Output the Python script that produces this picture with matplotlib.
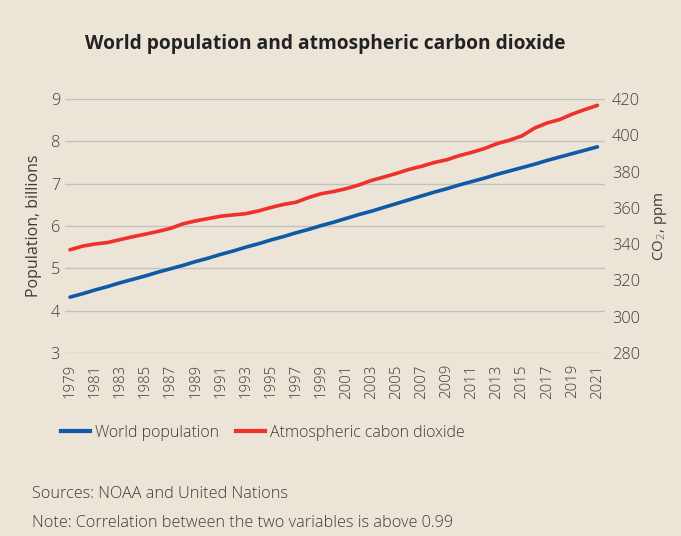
import matplotlib
matplotlib.use("Agg")
import matplotlib.pyplot as plt
from matplotlib.lines import Line2D

plt.rcParams['font.family'] = ['Open Sans', 'DejaVu Sans']
plt.rcParams['font.weight'] = 'light'

years = list(range(1979, 2022))

# world population, billions
population = [4.32, 4.40, 4.49, 4.57, 4.66, 4.74, 4.82, 4.91, 4.99, 5.07,
              5.16, 5.24, 5.33, 5.41, 5.50, 5.58, 5.67, 5.75, 5.84, 5.92,
              6.01, 6.09, 6.18, 6.27, 6.35, 6.44, 6.53, 6.62, 6.71, 6.80,
              6.88, 6.97, 7.05, 7.13, 7.22, 7.30, 7.38, 7.46, 7.55, 7.63,
              7.71, 7.79, 7.87]

# atmospheric CO2, ppm (annual mean)
co2 = [336.9, 338.9, 340.1, 340.9, 342.5, 344.1, 345.5, 347.0, 348.7, 351.2,
       352.8, 354.1, 355.4, 356.1, 356.8, 358.3, 360.2, 361.9, 363.1, 365.7,
       367.8, 369.0, 370.6, 372.6, 375.1, 377.0, 379.0, 381.2, 382.9, 385.0,
       386.5, 388.8, 390.6, 392.7, 395.4, 397.3, 399.7, 404.0, 406.8, 408.7,
       411.7, 414.2, 416.5]

pop_ticks = [3, 4, 5, 6, 7, 8, 9]
co2_ticks = [280, 300, 320, 340, 360, 380, 400, 420]
year_ticks = years[::2]

bg = "#ECE4D6"
blue = "#0E5AA7"
red = "#F0302A"
grid = "#C4C1BC"
txt = "#3E3B39"

fig = plt.figure(figsize=(6.81, 5.36), dpi=100, facecolor=bg)
ax = fig.add_axes([0.0954, 0.3414, 0.793, 0.4739])
ax.set_facecolor(bg)
ax2 = ax.twinx()

ax.plot(years, population, color=blue, lw=2.6, solid_capstyle="round", zorder=3)
ax2.plot(years, co2, color=red, lw=2.6, solid_capstyle="round", zorder=3)

ax.set_xlim(1978.6, 2021.6)
ax.set_ylim(3, 9)
ax2.set_ylim(280, 420)
ax.set_yticks(pop_ticks)
ax2.set_yticks(co2_ticks)
ax.set_xticks(year_ticks)
ax.set_xticklabels([str(y) for y in year_ticks], rotation=90)

ax.grid(axis="y", color=grid, lw=1.0)
ax.set_axisbelow(True)
for a in (ax, ax2):
    for s in a.spines.values():
        s.set_visible(False)
    a.tick_params(length=0, colors=txt)
ax.tick_params(axis="y", labelsize=11.8, pad=3.5)
ax2.tick_params(axis="y", labelsize=11.8, pad=5)
ax.tick_params(axis="x", labelsize=10.8, pad=8)

ax.set_ylabel("Population, billions", fontsize=11.5, color=txt, labelpad=6)
ax2.set_ylabel("CO$_2$, ppm", fontsize=10.8, color=txt, labelpad=8)

fig.text(0.478, 0.918, "World population and atmospheric carbon dioxide",
         ha="center", va="center", fontsize=13.8, fontweight="bold", color="#222222")

handles = [Line2D([], [], color=blue, lw=3), Line2D([], [], color=red, lw=3)]
fig.legend(handles, ["World population", "Atmospheric cabon dioxide"],
           loc="center left", bbox_to_anchor=(0.069, 0.193), ncol=2, frameon=False,
           fontsize=11.5, handlelength=1.8, handletextpad=0.32, columnspacing=1.05,
           labelcolor=txt)

fig.text(0.047, 0.078, "Sources: NOAA and United Nations", fontsize=11.7,
         color=txt, va="center")
fig.text(0.047, 0.024, "Note: Correlation between the two variables is above 0.99",
         fontsize=11.7, color=txt, va="center")

fig.savefig("out.png", dpi=100, facecolor=bg)
